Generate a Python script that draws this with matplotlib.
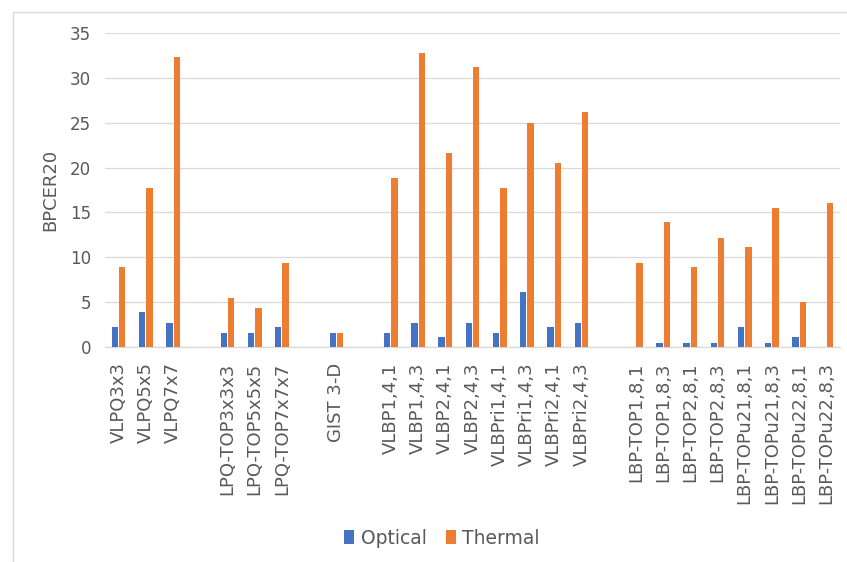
import numpy as np
import matplotlib

matplotlib.use("Agg")

import matplotlib.pyplot as plt
from matplotlib.patches import Rectangle

# ----- Data (blank strings are the gaps between method groups) -----
labels = [
    "VLPQ3x3", "VLPQ5x5", "VLPQ7x7", "",
    "LPQ-TOP3x3x3", "LPQ-TOP5x5x5", "LPQ-TOP7x7x7", "",
    "GIST 3-D", "",
    "VLBP1,4,1", "VLBP1,4,3", "VLBP2,4,1", "VLBP2,4,3",
    "VLBPri1,4,1", "VLBPri1,4,3", "VLBPri2,4,1", "VLBPri2,4,3", "",
    "LBP-TOP1,8,1", "LBP-TOP1,8,3", "LBP-TOP2,8,1", "LBP-TOP2,8,3",
    "LBP-TOPu21,8,1", "LBP-TOPu21,8,3", "LBP-TOPu22,8,1", "LBP-TOPu22,8,3",
]
nan = np.nan
optical = [
    2.2, 3.9, 2.7, nan,
    1.6, 1.6, 2.2, nan,
    1.6, nan,
    1.6, 2.7, 1.1, 2.7, 1.6, 6.1, 2.2, 2.7, nan,
    0.0, 0.5, 0.5, 0.5, 2.2, 0.5, 1.1, 0.0,
]
thermal = [
    8.9, 17.7, 32.3, nan,
    5.5, 4.4, 9.4, nan,
    1.6, nan,
    18.8, 32.8, 21.6, 31.2, 17.7, 25.0, 20.5, 26.2, nan,
    9.4, 13.9, 8.9, 12.2, 11.1, 15.5, 5.0, 16.1,
]

blue = "#4472C4"
orange = "#ED7D31"
grey_text = "#595959"
grid_col = "#D9D9D9"

plt.rcParams["font.family"] = ["DejaVu Sans"]

fig = plt.figure(figsize=(8.47, 5.62), dpi=100)
ax = fig.add_axes([105 / 847, 215 / 562, 735 / 847, 314 / 562])

x = np.arange(len(labels))
w = 0.23
ax.bar(x - 0.135, optical, w, color=blue, label="Optical", zorder=3)
ax.bar(x + 0.135, thermal, w, color=orange, label="Thermal", zorder=3)

ax.set_xlim(-0.5, len(labels) - 0.5)
ax.set_ylim(0, 35)
ax.set_yticks(np.arange(0, 36, 5))
ax.set_xticks(x)
ax.set_xticklabels(labels, rotation=90, fontsize=13, color=grey_text)
ax.tick_params(axis="x", length=0, pad=11)
ax.tick_params(axis="y", length=0, pad=10, labelsize=12, labelcolor=grey_text)
ax.yaxis.grid(True, color=grid_col, linewidth=0.9, zorder=0)
for side in ["top", "right", "left"]:
    ax.spines[side].set_visible(False)
ax.spines["bottom"].set_color(grid_col)
ax.spines["bottom"].set_linewidth(0.9)
ax.set_ylabel("BPCER20", fontsize=13, color=grey_text, labelpad=8)

fig.legend(
    loc="center",
    bbox_to_anchor=(442 / 847, 1 - 538 / 562),
    ncol=2,
    frameon=False,
    fontsize=13.5,
    labelcolor=grey_text,
    handlelength=0.55,
    handleheight=0.8,
    handletextpad=0.35,
    columnspacing=1.0,
)

# chart area border
fig.patches.append(
    Rectangle((13 / 847, -0.1), 1.0, 1 - 12 / 562 + 0.1, transform=fig.transFigure,
              fill=False, edgecolor=grid_col, linewidth=1.0)
)

fig.savefig("out.png", dpi=100)
